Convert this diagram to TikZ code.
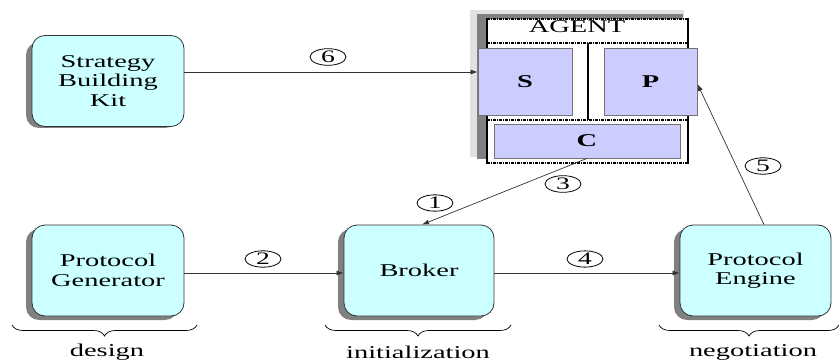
\documentclass[tikz,border=0pt]{standalone}
\usepackage{fontspec}
\setmainfont{Liberation Serif}[FakeStretch=1.58]
\usetikzlibrary{arrows.meta,shapes.geometric,decorations.pathreplacing}

\definecolor{boxcyan}{RGB}{204,255,255}
\definecolor{boxlav}{RGB}{204,204,255}
\definecolor{shadowgray}{RGB}{128,128,128}
\definecolor{halogray}{RGB}{225,225,225}

\tikzset{
  unit/.style={draw=black!80, line width=0.8pt, fill=boxcyan, rounded corners=13pt,
    minimum width=152pt, minimum height=91pt, align=center, font=\fontsize{18}{19.5}\selectfont,
    inner sep=0pt},
  unitshadow/.style={fill=shadowgray, rounded corners=13pt, draw=none},
  part/.style={draw=black!55, line width=0.8pt, fill=boxlav, inner sep=0pt,
    font=\fontsize{18}{19.5}\selectfont\bfseries},
  flow/.style={draw=black!80, line width=0.7pt, -{Latex[length=7pt,width=5pt]}},
  stepno/.style={ellipse, draw=black, line width=0.8pt, minimum width=36pt, minimum height=16pt,
    inner sep=0pt, font=\fontsize{17.5}{17.5}\selectfont},
  dashdot/.style={line width=1.6pt, dash pattern=on 3pt off 1pt on 1pt off 1pt},
  phase/.style={decorate, decoration={brace, mirror, amplitude=11pt}, line width=0.7pt},
  phaselabel/.style={font=\fontsize{18}{19.5}\selectfont, inner sep=0pt}
}

\begin{document}
\begin{tikzpicture}[x=1pt, y=-1pt]
\useasboundingbox (0,0) rectangle (839,361);

% drop shadows of the rounded units
\fill[unitshadow] (26,42) rectangle (178,128);
\fill[unitshadow] (26,229) rectangle (178,320);
\fill[unitshadow] (338,229) rectangle (488,320);
\fill[unitshadow] (674,229) rectangle (825,320);

% rounded units
\node[unit] (sbk) at (108,81) {Strategy\\Building\\Kit};
\node[unit] (pg) at (108,270.5) {Protocol\\Generator};
\node[unit, minimum width=150pt] (br) at (419,270.5) {Broker};
\node[unit, minimum width=151pt] (pe) at (755.5,270.5) {Protocol\\Engine};

% agent container with its shadow
\fill[halogray] (470,10) rectangle (684,157);
\fill[shadowgray] (477,14) rectangle (683,159);
\fill[white] (487,19) rectangle (688,163);
\node[font=\fontsize{18}{19.5}\selectfont, inner sep=0pt] (agentlbl) at (577,27) {AGENT};
\draw[dashdot] (487,19) -- (688,19);
\draw[dashdot] (487,163) -- (688,163);
\draw[dashdot] (487,43) -- (688,43);
\draw[dashdot] (487,120) -- (688,120);
\draw[line width=2.2pt] (487,18.2) -- (487,163.8);
\draw[line width=2.2pt] (688,18.2) -- (688,163.8);
\draw[line width=1.5pt] (588,43) -- (588,120);

% agent parts
\node[part, minimum width=94pt, minimum height=67pt] (s) at (525,81.5) {S};
\node[part, minimum width=93pt, minimum height=67pt] (p) at (650.5,81.5) {P};
\node[part, minimum width=186pt, minimum height=34pt] (c) at (587,141) {C};

% message flow
\draw[flow] ([yshift=9pt]sbk.east) -- ([yshift=9pt]sbk.east -| s.west);
\draw[flow] ([yshift=-2.5pt]pg.east) -- ([yshift=-2.5pt]br.west);
\draw[flow] ([yshift=-2.5pt]br.east) -- ([yshift=-2.5pt]pe.west);
\draw[flow] ([xshift=8.5pt]pe.north) -- ([yshift=-2.5pt]p.east);
\draw[flow] (c.south) -- ([xshift=3pt]br.north);

% step numbers
\node[stepno] (n6) at (328,57) {6};
\node[stepno] (n2) at (263,259) {2};
\node[stepno] (n4) at (585,259) {4};
\node[stepno] (n5) at (763,166) {5};
\node[stepno] (n1) at (435,203) {1};
\node[stepno] (n3) at (563,184) {3};

% phases
\draw[phase] (12,325) -- (197,325);
\draw[phase] (325,325) -- (511,325);
\draw[phase] (659,325) -- (839,325);
\node[phaselabel] (ph1) at (107,352) {design};
\node[phaselabel] (ph2) at (418,352) {initialization};
\node[phaselabel] (ph3) at (753,352) {negotiation};
\end{tikzpicture}
\end{document}
